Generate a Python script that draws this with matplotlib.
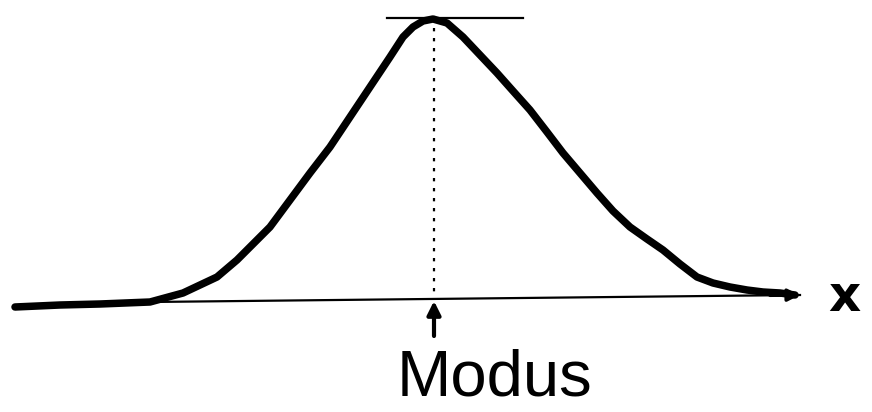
import matplotlib.pyplot as plt

# Handgezeichnete Glockenkurve, Koordinaten in Pixeln des Bildes (y nach unten)
kurve_x = [15, 60, 100, 150, 183, 217, 237, 250, 270, 290, 310, 330, 350, 370,
           390, 403, 413, 423, 433, 447, 463, 480, 497, 513, 530, 547, 563, 580,
           597, 613, 630, 647, 663, 680, 697, 713, 730, 747, 763, 780, 795]
kurve_y = [307, 305, 304, 302, 293, 277, 260, 247, 227, 200, 173, 147, 117, 87,
           57, 37, 27, 21, 19, 23, 37, 55, 73, 91, 110, 132, 153, 173,
           193, 211, 227, 239, 250, 264, 277, 283, 287, 290, 292, 293, 295]

achse_x = [150, 800]
achse_y = [302, 295]

modus_x = 434
gipfel_y = 18
tangente_x = [387, 523]

fig = plt.figure(figsize=(8.72, 4.12), dpi=100)
ax = fig.add_axes([0, 0, 1, 1])
ax.set_xlim(0, 872)
ax.set_ylim(412, 0)
ax.axis('off')

# x-Achse mit Pfeil
ax.plot(achse_x, achse_y, color='black', lw=1.6)
ax.annotate('', xy=(achse_x[1], achse_y[1]), xytext=(achse_x[1] - 30, achse_y[1] + 0.3),
            arrowprops=dict(arrowstyle='-|>', color='black', lw=2.5,
                            mutation_scale=18, shrinkA=0, shrinkB=0))
ax.text(844, 297, 'x', fontsize=36, fontweight='bold', ha='center', va='center')

# Kurve
ax.plot(kurve_x, kurve_y, color='black', lw=5.4,
        solid_capstyle='round', solid_joinstyle='round')

# waagrechte Tangente am Gipfel
ax.plot(tangente_x, [gipfel_y, gipfel_y], color='black', lw=1.6)

# gepunktete Senkrechte
ax.plot([modus_x, modus_x], [gipfel_y, 299], color='black', lw=1.6, ls=(0, (1.5, 3)))

# Pfeil nach oben und Beschriftung
ax.annotate('', xy=(modus_x, 301), xytext=(modus_x, 336),
            arrowprops=dict(arrowstyle='-|>', color='black', lw=3,
                            mutation_scale=20, shrinkA=0, shrinkB=0))
ax.text(494, 396, 'Modus', fontsize=47, ha='center', va='baseline',
        family=['Liberation Sans', 'DejaVu Sans'])

fig.savefig('out.png', dpi=100)
